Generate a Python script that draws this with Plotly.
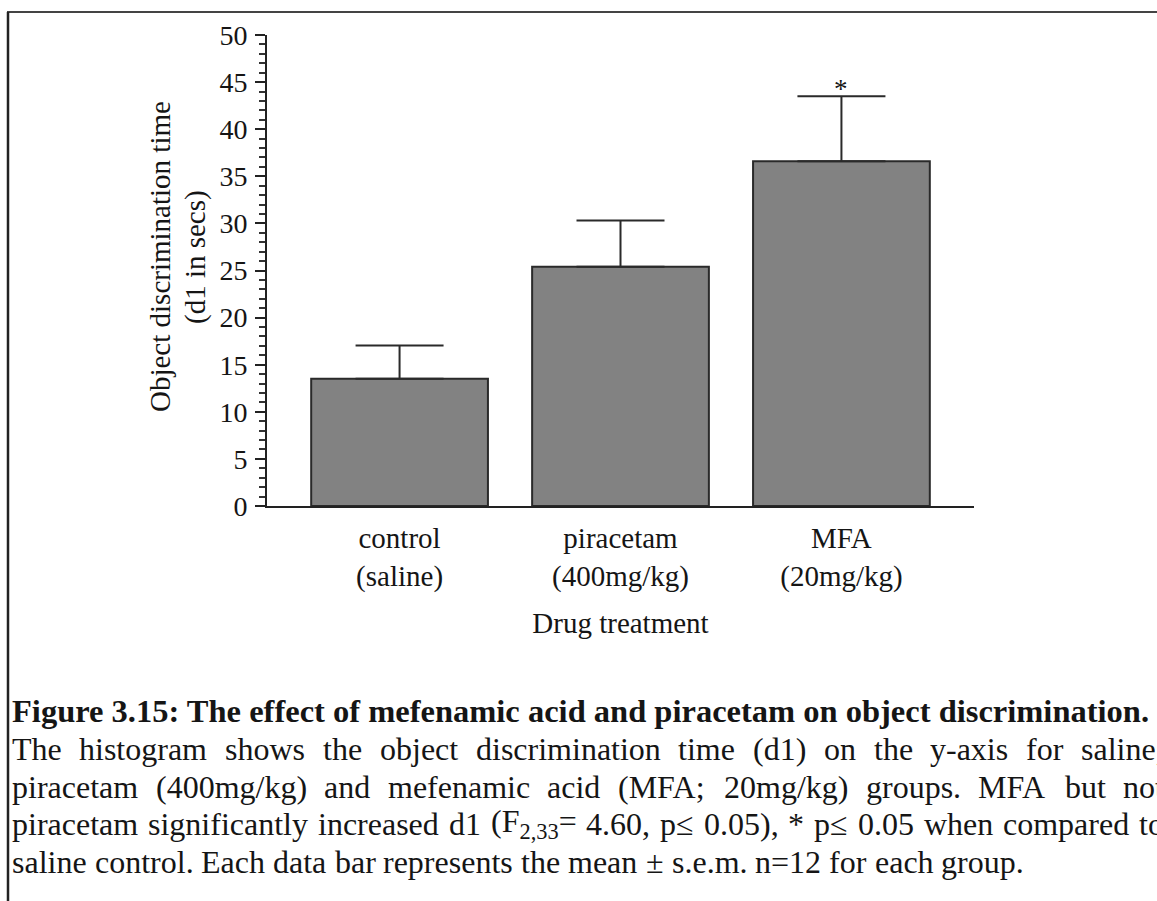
import re
import plotly.graph_objects as go

# ---------------- data ----------------
categories = ["control<br>(saline)", "piracetam<br>(400mg/kg)", "MFA<br>(20mg/kg)"]
means = [13.5, 25.4, 36.6]
sem = [3.55, 4.9, 6.9]
significance = ["", "", "*"]
y_tick_values = [0, 5, 10, 15, 20, 25, 30, 35, 40, 45, 50]

y_title_lines = ["Object discrimination time", "(d1 in secs)"]
x_title = "Drug treatment"
caption_heading = "Figure 3.15: The effect of mefenamic acid and piracetam on object discrimination."
caption_lines = [
    "The histogram shows the object discrimination time (d1) on the y-axis for saline,",
    "piracetam (400mg/kg) and mefenamic acid (MFA; 20mg/kg) groups. MFA but not",
    "piracetam significantly increased d1 (F<sub>2,33</sub>= 4.60, p≤ 0.05), * p≤ 0.05 when compared to",
    "saline control. Each data bar represents the mean ± s.e.m. n=12 for each group.",
]

# ---------------- layout geometry (pixels) ----------------
W, H = 1157, 901
PL, PR, PT, PB = 267, 974, 35, 506   # plot area box


def px(x):
    return (x - PL) / (PR - PL)


def py(y):
    return (PB - y) / (PB - PT)


# Times metrics (1/1000 em) for justification of the caption
REG = {' ': 250, '!': 333, '(': 333, ')': 333, '*': 500, '+': 564, ',': 250, '-': 333,
       '.': 250, '/': 278, ':': 278, ';': 278, '=': 564, '±': 564, '≤': 549}
for d in "0123456789":
    REG[d] = 500
REG.update(dict(zip("ABCDEFGHIJKLMNOPQRSTUVWXYZ",
                    [722, 667, 667, 722, 611, 556, 722, 722, 333, 389, 722, 611, 889,
                     722, 722, 556, 722, 667, 556, 611, 722, 722, 944, 722, 722, 611])))
REG.update(dict(zip("abcdefghijklmnopqrstuvwxyz",
                    [444, 500, 444, 500, 444, 333, 500, 500, 278, 278, 500, 278, 778,
                     500, 500, 500, 500, 333, 389, 278, 500, 500, 722, 500, 500, 444])))


def text_width(s, size):
    total = 0.0
    for p in re.split(r"(<sub>.*?</sub>)", s):
        if p.startswith("<sub>"):
            total += 0.7 * sum(REG.get(c, 500) for c in p[5:-6])
        else:
            total += sum(REG.get(c, 500) for c in p)
    return total / 1000.0 * size


FONT = "Liberation Serif, Times New Roman, serif"
INK = "#151515"
TXT = 29

fig = go.Figure()

fig.add_trace(go.Bar(
    x=categories,
    y=means,
    width=0.8,
    marker=dict(color="#828282", line=dict(color="#2a2a2a", width=2)),
    error_y=dict(type="data", array=sem, arrayminus=[0] * len(sem), symmetric=False,
                 color="#2a2a2a", thickness=2, width=44),
    hoverinfo="x+y",
    showlegend=False,
))

annotations = []
# significance asterisks
for c, m, s, sig in zip(categories, means, sem, significance):
    if sig:
        annotations.append(dict(x=c, y=m + s, xref="x", yref="y", text=sig, showarrow=False,
                                yanchor="bottom", yshift=-10,
                                font=dict(family=FONT, size=27, color=INK)))

# y-axis title (two rotated lines)
for t, xc in zip(y_title_lines, [160, 195]):
    annotations.append(dict(x=px(xc), y=py(257), xref="paper", yref="paper", text=t,
                            textangle=-90, showarrow=False, xanchor="center", yanchor="middle",
                            font=dict(family=FONT, size=TXT, color=INK)))

# caption heading
annotations.append(dict(x=px(10), y=py(711), xref="paper", yref="paper",
                        text="<b>" + caption_heading + "</b>",
                        showarrow=False, xanchor="left", yanchor="middle",
                        font=dict(family=FONT, size=32.5, color=INK)))

# caption body (justified lines built word by word)
CAP_SIZE = 32
line_y = [749, 787, 824, 862]
x0, x1 = 10, 1162
for i, (line, ly) in enumerate(zip(caption_lines, line_y)):
    words = line.split(" ")
    widths = [text_width(w, CAP_SIZE) for w in words]
    justify = i < len(caption_lines) - 1
    space = text_width(" ", CAP_SIZE)
    if justify and len(words) > 1:
        gap = max(space * 0.8, (x1 - x0 - sum(widths)) / (len(words) - 1))
    else:
        gap = space
    x = x0
    for w, wd in zip(words, widths):
        annotations.append(dict(x=px(x), y=py(ly), xref="paper", yref="paper", text=w,
                                showarrow=False, xanchor="left", yanchor="middle",
                                font=dict(family=FONT, size=CAP_SIZE, color=INK)))
        x += wd + gap

# frame lines of the figure panel
shapes = [
    dict(type="line", xref="paper", yref="paper", x0=px(7), x1=px(1157), y0=py(12), y1=py(12),
         line=dict(color="#444444", width=2)),
    dict(type="line", xref="paper", yref="paper", x0=px(8), x1=px(8), y0=py(12), y1=py(901),
         line=dict(color="#222222", width=2.5)),
]

fig.update_layout(
    width=W, height=H, autosize=False,
    margin=dict(l=PL, r=W - PR, t=PT, b=H - PB, pad=0),
    paper_bgcolor="white", plot_bgcolor="white",
    font=dict(family=FONT, color=INK),
    annotations=annotations,
    shapes=shapes,
    bargap=0.2,
)

fig.update_xaxes(
    type="category", categoryorder="array", categoryarray=categories,
    range=[-0.6, 2.6],
    showline=True, linecolor="#222222", linewidth=2,
    ticks="", showgrid=False, zeroline=False,
    tickfont=dict(family=FONT, size=TXT, color=INK),
    ticklabelstandoff=5,
    title=dict(text=x_title, font=dict(family=FONT, size=TXT, color=INK), standoff=21),
)

fig.update_yaxes(
    range=[0, 50],
    tickmode="array", tickvals=y_tick_values,
    ticks="outside", ticklen=10, tickwidth=2, tickcolor="#222222",
    minor=dict(dtick=1, ticks="outside", ticklen=6, tickwidth=1.5, tickcolor="#333333"),
    showline=True, linecolor="#222222", linewidth=2,
    showgrid=False, zeroline=False,
    tickfont=dict(family=FONT, size=28, color=INK),
    ticklabelstandoff=2,
)

fig.write_html("out.html", config={"displayModeBar": False},
               post_script="document.body.style.margin='0px';")
